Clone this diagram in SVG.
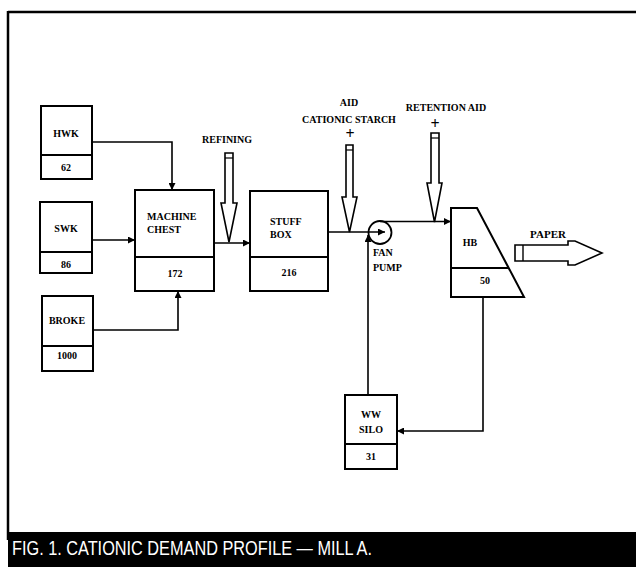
<svg xmlns="http://www.w3.org/2000/svg" width="636" height="567" viewBox="0 0 636 567">
<defs>
<style>
.box{fill:#fff;stroke:#000;stroke-width:2}
.t{font-family:"Liberation Serif","Times New Roman",serif;font-weight:bold;font-size:10px;fill:#000}
.c{text-anchor:middle}
.plus{font-size:16px}
.ln{fill:none;stroke:#000;stroke-width:1.6}
.ha{fill:#fff;stroke:#000;stroke-width:1.6;stroke-linejoin:miter}
</style>
<marker id="ah" viewBox="0 0 10 10" refX="10" refY="5" markerWidth="8" markerHeight="7" markerUnits="userSpaceOnUse" orient="auto">
<path d="M0 0 L10 5 L0 10 Z" fill="#000"/>
</marker>
</defs>
<rect x="0" y="0" width="636" height="567" fill="#fff"/>
<g id="frame">
<line x1="8" y1="12" x2="636" y2="12" stroke="#000" stroke-width="2.5"/>
<line x1="8" y1="11" x2="8" y2="540" stroke="#000" stroke-width="2.5"/>
<rect x="8" y="532" width="628" height="35" fill="#000"/>
<text x="12" y="555" font-family="'Liberation Sans',Arial,sans-serif" font-size="21" fill="#fff" textLength="360" lengthAdjust="spacingAndGlyphs">FIG. 1. CATIONIC DEMAND PROFILE — MILL A.</text>
</g>
<g id="connectors">
<path class="ln" d="M92 142 H172 V190" marker-end="url(#ah)"/>
<path class="ln" d="M92 240 H135" marker-end="url(#ah)"/>
<path class="ln" d="M93 330 H178 V291" marker-end="url(#ah)"/>
<path class="ln" d="M214 243 H250" marker-end="url(#ah)"/>
<path class="ln" d="M328 232 H385" marker-end="url(#ah)"/>
<path class="ln" d="M380 221.5 H451" marker-end="url(#ah)"/>
<path class="ln" d="M368 395 V235" marker-end="url(#ah)"/>
<path class="ln" d="M483 297 V431 H397" marker-end="url(#ah)"/>
</g>
<g id="hwk">
<rect class="box" x="41" y="106" width="51" height="73"/>
<line x1="41" y1="155" x2="92" y2="155" stroke="#000" stroke-width="2"/>
<text class="t c" x="66" y="136.5">HWK</text>
<text class="t c" x="66" y="171">62</text>
</g>
<g id="swk">
<rect class="box" x="40" y="202" width="52" height="71"/>
<line x1="40" y1="252" x2="92" y2="252" stroke="#000" stroke-width="2"/>
<text class="t c" x="66" y="232">SWK</text>
<text class="t c" x="66" y="268">86</text>
</g>
<g id="broke">
<rect class="box" x="42" y="296" width="51" height="75"/>
<line x1="42" y1="346" x2="93" y2="346" stroke="#000" stroke-width="2"/>
<text class="t c" x="67" y="324">BROKE</text>
<text class="t c" x="67" y="359">1000</text>
</g>
<g id="machine-chest">
<rect class="box" x="135" y="190" width="79" height="101"/>
<line x1="135" y1="257" x2="214" y2="257" stroke="#000" stroke-width="2"/>
<text class="t" x="147" y="220">MACHINE</text>
<text class="t" x="147" y="233">CHEST</text>
<text class="t c" x="175" y="276.5">172</text>
</g>
<g id="stuff-box">
<rect class="box" x="250" y="191" width="78" height="100"/>
<line x1="250" y1="257" x2="328" y2="257" stroke="#000" stroke-width="2"/>
<text class="t" x="270" y="225">STUFF</text>
<text class="t" x="270" y="238">BOX</text>
<text class="t c" x="289" y="276">216</text>
</g>
<g id="fan-pump">
<circle cx="380" cy="232.5" r="11.5" fill="none" stroke="#000" stroke-width="1.8"/>
<text class="t" x="373" y="256">FAN</text>
<text class="t" x="373" y="271">PUMP</text>
</g>
<g id="headbox">
<path class="box" d="M451 208 H477 L524 297 H451 Z"/>
<line x1="451" y1="268" x2="509" y2="268" stroke="#000" stroke-width="2"/>
<text class="t c" x="470" y="246">HB</text>
<text class="t c" x="485" y="284">50</text>
</g>
<g id="ww-silo">
<rect class="box" x="345" y="395" width="52" height="74"/>
<line x1="345" y1="444" x2="397" y2="444" stroke="#000" stroke-width="2"/>
<text class="t c" x="371" y="418">WW</text>
<text class="t c" x="371" y="433">SILO</text>
<text class="t c" x="371" y="460">31</text>
</g>
<g id="refining">
<text class="t c" x="227" y="143">REFINING</text>
<path class="ha" d="M225 153 H233 V203 H237 L229 242 L221 203 H225 Z"/>
<line x1="225" y1="158" x2="233" y2="158" stroke="#000" stroke-width="1.2"/>
</g>
<g id="cationic-starch">
<text class="t c" x="349" y="106">AID</text>
<text class="t c" x="349" y="123">CATIONIC STARCH</text>
<text class="t c plus" x="350" y="138.5">+</text>
<path class="ha" d="M346 145 H353 V197 H357 L349.5 232 L342 197 H346 Z"/>
<line x1="346" y1="150" x2="353" y2="150" stroke="#000" stroke-width="1.2"/>
</g>
<g id="retention-aid">
<text class="t c" x="446" y="111">RETENTION AID</text>
<text class="t c plus" x="435" y="128.5">+</text>
<path class="ha" d="M431 133 H439 V183 H442 L434.5 222 L427 183 H431 Z"/>
<line x1="431" y1="138" x2="439" y2="138" stroke="#000" stroke-width="1.2"/>
</g>
<g id="paper">
<text class="t c" x="548" y="238" style="font-size:11px">PAPER</text>
<path class="ha" d="M515 245 H568 V241 H575 L602 253 L575 265 H568 V261 H515 Z"/>
<line x1="523" y1="245" x2="523" y2="261" stroke="#000" stroke-width="1.4"/>
</g>
</svg>
